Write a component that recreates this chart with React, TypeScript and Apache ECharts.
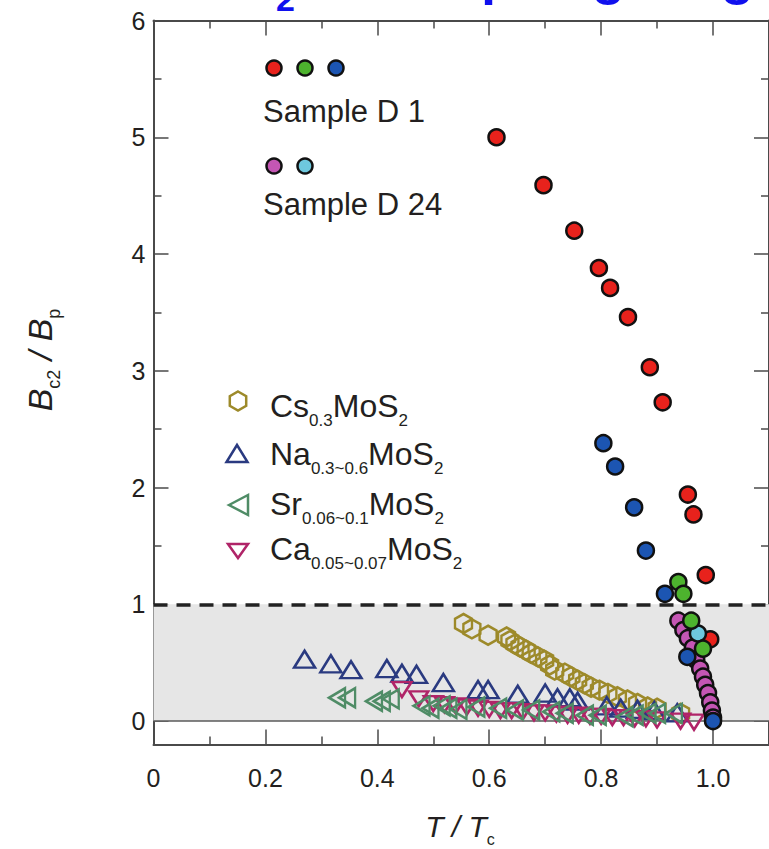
import React, { useEffect, useRef } from "react";
import * as echarts from "echarts";

// ---- data (T/Tc, Bc2/Bp) ----
const d1Red = [
  [0.613, 5.0], [0.697, 4.59], [0.752, 4.2], [0.796, 3.88], [0.816, 3.71], [0.848, 3.46],
  [0.887, 3.03], [0.91, 2.73], [0.955, 1.94], [0.965, 1.77], [0.987, 1.25], [0.995, 0.7],
];
const d1Green = [[0.938, 1.19], [0.947, 1.09], [0.961, 0.86], [0.982, 0.62]];
const d1Blue = [
  [0.804, 2.38], [0.825, 2.18], [0.859, 1.83], [0.88, 1.46], [0.914, 1.09], [0.954, 0.55], [1.0, 0.0],
];
const d24Magenta = [
  [0.938, 0.86], [0.947, 0.78], [0.955, 0.71], [0.964, 0.63], [0.97, 0.52], [0.977, 0.45],
  [0.982, 0.38], [0.986, 0.31], [0.991, 0.24], [0.995, 0.16], [0.998, 0.09], [1.0, 0.03],
];
const d24Cyan = [[0.973, 0.75]];

const cs = [
  [0.554, 0.835], [0.569, 0.79], [0.598, 0.735], [0.631, 0.72], [0.637, 0.69], [0.646, 0.66],
  [0.655, 0.635], [0.666, 0.607], [0.675, 0.58], [0.687, 0.55], [0.699, 0.52], [0.708, 0.48],
  [0.717, 0.436], [0.735, 0.41], [0.746, 0.38], [0.758, 0.35], [0.77, 0.32], [0.782, 0.29],
  [0.797, 0.265], [0.812, 0.237], [0.829, 0.208], [0.847, 0.18], [0.865, 0.15], [0.883, 0.12],
  [0.9, 0.11], [0.942, 0.066],
];
const na = [
  [0.27, 0.53], [0.317, 0.49], [0.353, 0.44], [0.417, 0.45], [0.444, 0.41], [0.47, 0.4],
  [0.518, 0.33], [0.58, 0.27], [0.598, 0.27], [0.651, 0.23], [0.7, 0.24], [0.722, 0.2],
  [0.744, 0.2], [0.758, 0.17], [0.81, 0.13], [0.835, 0.11], [0.865, 0.1], [0.895, 0.09], [0.936, 0.07],
];
const sr = [
  [0.328, 0.2], [0.346, 0.2], [0.394, 0.17], [0.408, 0.17], [0.424, 0.19], [0.479, 0.13],
  [0.495, 0.11], [0.515, 0.13], [0.527, 0.11], [0.545, 0.1], [0.577, 0.12], [0.616, 0.11],
  [0.646, 0.094], [0.675, 0.094], [0.711, 0.08], [0.735, 0.066], [0.771, 0.05], [0.794, 0.05],
  [0.842, 0.037], [0.86, 0.05], [0.883, 0.066], [0.9, 0.066], [0.93, 0.066],
];
const ca = [
  [0.444, 0.27], [0.474, 0.19], [0.5, 0.15], [0.52, 0.14], [0.54, 0.13], [0.56, 0.12],
  [0.58, 0.11], [0.6, 0.1], [0.62, 0.09], [0.64, 0.09], [0.66, 0.08], [0.68, 0.07],
  [0.7, 0.07], [0.72, 0.06], [0.74, 0.05], [0.76, 0.05], [0.78, 0.04], [0.8, 0.04],
  [0.82, 0.03], [0.84, 0.03], [0.86, 0.02], [0.88, 0.02], [0.9, 0.01], [0.942, 0.0], [0.966, -0.01],
];

const xMajor = [0, 0.2, 0.4, 0.6, 0.8, 1.0];
const xMinor = [0.1, 0.3, 0.5, 0.7, 0.9];
const yMajor = [0, 1, 2, 3, 4, 5, 6];
const yMinor = [0.5, 1.5, 2.5, 3.5, 4.5, 5.5];
const bandRange = [0, 1];

const AX = "#4a4a4a";
const TXT = "#231f20";
const FONT = "'Liberation Sans', Arial, Helvetica, sans-serif";
const HEX = "path://M0,-10L8.66,-5L8.66,5L0,10L-8.66,5L-8.66,-5Z";

function xAx(position: string, values: number[], len: number, line: boolean, labels: boolean) {
  return {
    type: "value", position, min: 0, max: 1.1,
    axisLine: { show: line, onZero: false, lineStyle: { color: AX, width: 2 } },
    axisTick: { show: true, inside: true, length: len, customValues: values, lineStyle: { color: AX, width: 1.5 } },
    axisLabel: {
      show: labels, customValues: values, margin: 21, color: TXT, fontSize: 25, fontFamily: FONT,
      formatter: (v: number) => (v === 0 ? "0" : v.toFixed(1)),
    },
    splitLine: { show: false },
  };
}
function yAx(position: string, values: number[], len: number, line: boolean, labels: boolean) {
  return {
    type: "value", position, min: -0.2, max: 6,
    axisLine: { show: line, onZero: false, lineStyle: { color: AX, width: 2 } },
    axisTick: { show: true, inside: true, length: len, customValues: values, lineStyle: { color: AX, width: 1.5 } },
    axisLabel: {
      show: labels, customValues: values, margin: 8, color: TXT, fontSize: 25, fontFamily: FONT,
      formatter: (v: number) => String(v),
    },
    splitLine: { show: false },
  };
}

function circles(name: string, data: number[][], color: string, z: number) {
  return {
    name, type: "scatter", data, z, symbol: "circle", symbolSize: 16,
    itemStyle: { color, borderColor: "#111", borderWidth: 2.5, opacity: 1 },
  };
}
function open(name: string, data: number[][], color: string, symbol: string, size: number[], rotate: number, z: number) {
  return {
    name, type: "scatter", data, z, symbol, symbolSize: size, symbolRotate: rotate,
    itemStyle: { color: "rgba(0,0,0,0)", borderColor: color, borderWidth: 2.5, opacity: 1 },
  };
}

const C_CS = "#9d8a2a";
const C_NA = "#2a3a80";
const C_SR = "#4f8c66";
const C_CA = "#b02468";

function subText(x: number, y: number, main1: string, sub1: string, main2: string, sub2: string) {
  return {
    type: "text", x, y, z: 100,
    style: {
      text: `{m|${main1}}{s|${sub1}}{m|${main2}}{s|${sub2}}`,
      verticalAlign: "middle", align: "left",
      rich: {
        m: { fontSize: 32, lineHeight: 46, fontFamily: FONT, fill: TXT, verticalAlign: "middle" },
        s: { fontSize: 17, lineHeight: 17, fontFamily: FONT, fill: TXT, verticalAlign: "bottom" },
      },
    },
  };
}

export default function App() {
  const ref = useRef<HTMLDivElement>(null);
  useEffect(() => {
    if (!ref.current) return;
    const chart = echarts.init(ref.current, null, { renderer: "svg" });
    const dot = (x: number, y: number, color: string) => ({
      type: "circle", z: 100, shape: { cx: x, cy: y, r: 7.5 },
      style: { fill: color, stroke: "#111", lineWidth: 2.5 },
    });
    chart.setOption({
      animation: false,
      backgroundColor: "#ffffff",
      grid: { left: 153.5, top: 20.5, right: -3.3, bottom: 104.6, containLabel: false },
      xAxis: [
        xAx("bottom", xMajor, 15, true, true),
        xAx("bottom", xMinor, 8, false, false),
        xAx("top", xMajor, 15, true, false),
        xAx("top", xMinor, 8, false, false),
      ],
      yAxis: [
        yAx("left", yMajor, 15, true, true),
        yAx("left", yMinor, 8, false, false),
        yAx("right", yMajor, 15, true, false),
        yAx("right", yMinor, 8, false, false),
      ],
      series: [
        {
          name: "band", type: "scatter", data: [], z: 1,
          markArea: {
            silent: true, z: 1,
            itemStyle: { color: "#e6e6e6" },
            data: [[{ yAxis: bandRange[0] }, { yAxis: bandRange[1] }]],
          },
          markLine: {
            silent: true, z: 1.5, symbol: ["none", "none"], label: { show: false },
            data: [
              { yAxis: bandRange[1], lineStyle: { color: "#222", width: 3.5, type: [14, 9] } },
              { yAxis: bandRange[0], lineStyle: { color: "#5a5a5a", width: 1.5, type: "solid" } },
            ],
          },
        },
        open("Cs0.3MoS2", cs, C_CS, HEX, [17, 19], 0, 3),
        open("Na0.3~0.6MoS2", na, C_NA, "triangle", [21, 17], 0, 3),
        open("Ca0.05~0.07MoS2", ca, C_CA, "triangle", [19, 15], 180, 3),
        open("Sr0.06~0.1MoS2", sr, C_SR, "triangle", [19, 16], 90, 3),
        circles("Sample D 24 (magenta)", d24Magenta, "#c456b4", 4),
        circles("Sample D 1 (red)", d1Red, "#e8221c", 4),
        circles("Sample D 24 (cyan)", d24Cyan, "#6ec8de", 4),
        circles("Sample D 1 (green)", d1Green, "#4db32e", 4),
        circles("Sample D 1 (blue)", d1Blue, "#1c55b2", 4),
      ],
      graphic: [
        // title fragment (cut off at top, as in the reference)
        { type: "text", x: 162, y: -25.5, z: 100, style: { text: "MoS", font: `bold 54px ${FONT}`, fill: "#1010ee", verticalAlign: "middle" } },
        { type: "text", x: 276, y: -1, z: 100, style: { text: "2", font: `bold 34px ${FONT}`, fill: "#1010ee", verticalAlign: "middle" } },
        { type: "text", x: 295, y: -25.5, z: 100, style: { text: " with liquid gating", font: `bold 54px ${FONT}`, fill: "#1010ee", verticalAlign: "middle" } },
        // sample legend
        dot(274, 68, "#e8221c"), dot(305, 68, "#4db32e"), dot(336, 68, "#1c55b2"),
        { type: "text", x: 263, y: 111, z: 100, style: { text: "Sample D 1", font: `31px ${FONT}`, fill: TXT, verticalAlign: "middle" } },
        dot(274, 166, "#c456b4"), dot(305, 166, "#6ec8de"),
        { type: "text", x: 263, y: 204, z: 100, style: { text: "Sample D 24", font: `31px ${FONT}`, fill: TXT, verticalAlign: "middle" } },
        // compound legend
        {
          type: "polygon", z: 100,
          shape: { points: [[238, 391.5], [246.2, 396.2], [246.2, 405.8], [238, 410.5], [229.8, 405.8], [229.8, 396.2]] },
          style: { fill: "none", stroke: C_CS, lineWidth: 2.5 },
        },
        subText(270, 406, "Cs", "0.3", "MoS", "2"),
        {
          type: "polygon", z: 100,
          shape: { points: [[237, 445], [247.5, 462], [226.5, 462]] },
          style: { fill: "none", stroke: C_NA, lineWidth: 2.5 },
        },
        subText(270, 454, "Na", "0.3~0.6", "MoS", "2"),
        {
          type: "polygon", z: 100,
          shape: { points: [[229, 505], [248, 495], [248, 515]] },
          style: { fill: "none", stroke: C_SR, lineWidth: 2.5 },
        },
        subText(270, 504, "Sr", "0.06~0.1", "MoS", "2"),
        {
          type: "polygon", z: 100,
          shape: { points: [[228, 544], [248, 544], [238, 558]] },
          style: { fill: "none", stroke: C_CA, lineWidth: 2.5 },
        },
        subText(270, 549, "Ca", "0.05~0.07", "MoS", "2"),
        // axis names
        {
          type: "text", x: 40, y: 360, rotation: Math.PI / 2, z: 100,
          style: {
            text: "{i|B}{s|c2}{i| / B}{s|p}", align: "center", verticalAlign: "middle",
            rich: {
              i: { fontSize: 34, lineHeight: 46, fontFamily: FONT, fontStyle: "italic", fill: TXT, verticalAlign: "middle" },
              s: { fontSize: 18, lineHeight: 18, fontFamily: FONT, fill: TXT, verticalAlign: "bottom" },
            },
          },
        },
        {
          type: "text", x: 460, y: 826, z: 100,
          style: {
            text: "{i|T / T}{s|c}", align: "center", verticalAlign: "middle",
            rich: {
              i: { fontSize: 30, lineHeight: 42, fontFamily: FONT, fontStyle: "italic", fill: TXT, verticalAlign: "middle" },
              s: { fontSize: 16, lineHeight: 16, fontFamily: FONT, fill: TXT, verticalAlign: "bottom" },
            },
          },
        },
      ],
    });
    return () => chart.dispose();
  }, []);
  return (
    <div style={{ position: "absolute", left: 0, top: 0, width: 769, height: 849, overflow: "hidden" }}>
      <div ref={ref} style={{ width: 769, height: 849 }} />
    </div>
  );
}
